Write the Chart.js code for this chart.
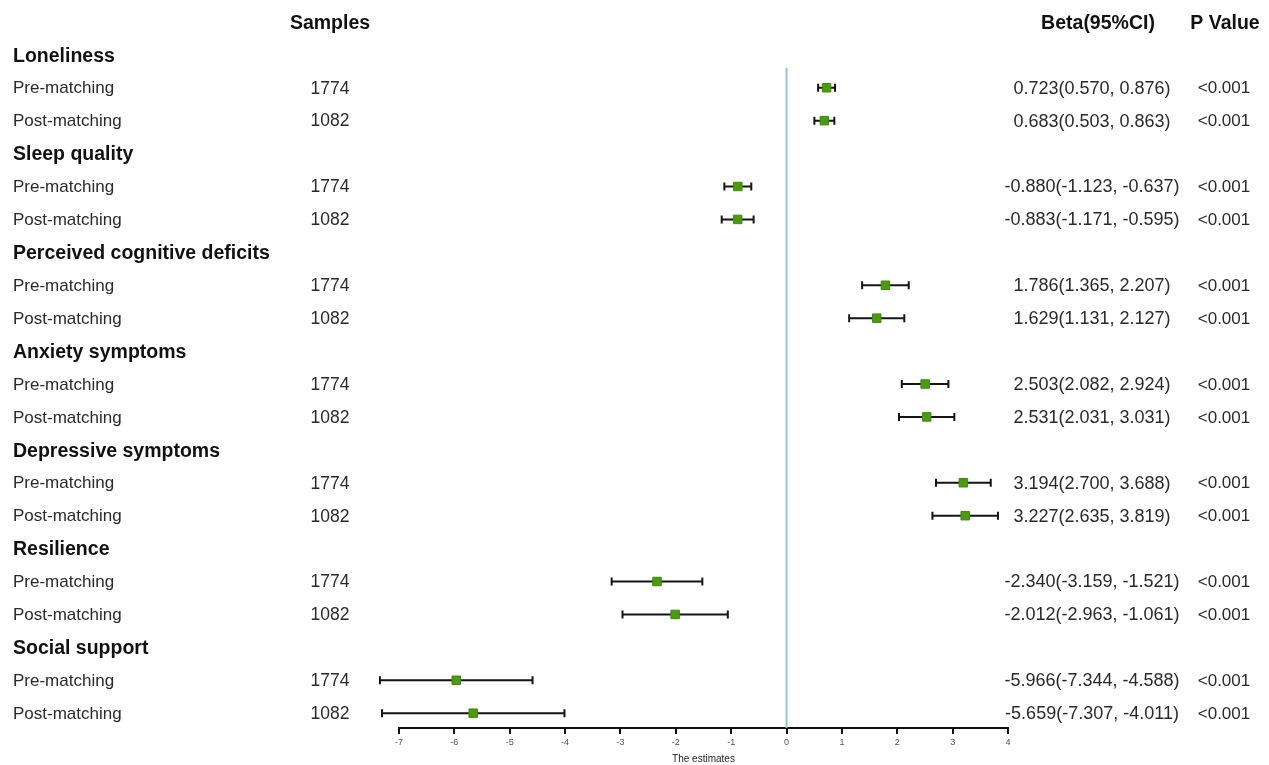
<!DOCTYPE html>
<html>
<head>
<meta charset="utf-8">
<script src="https://cdn.jsdelivr.net/npm/chart.js@4"></script>
<style>
  html, body { margin: 0; padding: 0; background: #ffffff; }
  #wrap { width: 1269px; height: 765px; position: relative; }
</style>
</head>
<body>
<div id="wrap"><canvas id="forest"></canvas></div>
<script>
// forest plot data
const groups = ['Loneliness', 'Sleep quality', 'Perceived cognitive deficits', 'Anxiety symptoms',
                'Depressive symptoms', 'Resilience', 'Social support'];
const subLabels = ['Pre-matching', 'Post-matching'];
const samples = [1774, 1082];
const estimates = [0.723, 0.683, -0.880, -0.883, 1.786, 1.629, 2.503, 2.531, 3.194, 3.227, -2.340, -2.012, -5.966, -5.659];
const lower = [0.570, 0.503, -1.123, -1.171, 1.365, 1.131, 2.082, 2.031, 2.700, 2.635, -3.159, -2.963, -7.344, -7.307];
const upper = [0.876, 0.863, -0.637, -0.595, 2.207, 2.127, 2.924, 3.031, 3.688, 3.819, -1.521, -1.061, -4.588, -4.011];
const pValues = ['<0.001', '<0.001', '<0.001', '<0.001', '<0.001', '<0.001', '<0.001',
                 '<0.001', '<0.001', '<0.001', '<0.001', '<0.001', '<0.001', '<0.001'];
const xTicks = [-7, -6, -5, -4, -3, -2, -1, 0, 1, 2, 3, 4];

const GREEN = '#4d9a10';
const TEXT = '#2a2a2a';
const HEAD = '#111111';

// row index for each estimate: header at 3g, sub rows at 3g+1, 3g+2
const rowOf = i => Math.floor(i / 2) * 3 + (i % 2) + 1;
const points = estimates.map((v, i) => ({ x: v, y: rowOf(i) }));
const fmt = v => v.toFixed(3);

const whiskers = {
    id: 'whiskers',
    beforeDatasetsDraw(chart) {
        const { ctx, scales: { x, y } } = chart;
        ctx.save();
        ctx.strokeStyle = '#151515';
        ctx.lineWidth = 2;
        estimates.forEach((v, i) => {
            const py = y.getPixelForValue(rowOf(i));
            const x1 = x.getPixelForValue(lower[i]);
            const x2 = x.getPixelForValue(upper[i]);
            ctx.beginPath();
            ctx.moveTo(x1, py); ctx.lineTo(x2, py);
            ctx.moveTo(x1, py - 4); ctx.lineTo(x1, py + 4);
            ctx.moveTo(x2, py - 4); ctx.lineTo(x2, py + 4);
            ctx.stroke();
        });
        ctx.restore();
    }
};

const tableText = {
    id: 'tableText',
    afterDraw(chart) {
        const { ctx, scales: { y } } = chart;
        ctx.save();
        ctx.textBaseline = 'middle';

        // column headers
        ctx.fillStyle = HEAD;
        ctx.font = 'bold 19.5px "Liberation Sans", Arial, sans-serif';
        ctx.textAlign = 'center';
        ctx.fillText('Samples', 330, 24);
        ctx.fillText('Beta(95%CI)', 1098, 24);
        ctx.fillText('P Value', 1225, 24);

        groups.forEach((g, gi) => {
            ctx.textAlign = 'left';
            ctx.fillText(g, 13, y.getPixelForValue(gi * 3) + 1.5);
        });

        ctx.fillStyle = TEXT;
        estimates.forEach((v, i) => {
            const py = y.getPixelForValue(rowOf(i)) + 1;
            ctx.font = '17px "Liberation Sans", Arial, sans-serif';
            ctx.textAlign = 'left';
            ctx.fillText(subLabels[i % 2], 13, py);
            ctx.textAlign = 'center';
            ctx.font = '17.5px "Liberation Sans", Arial, sans-serif';
            ctx.fillText(String(samples[i % 2]), 330, py);
            ctx.font = '18px "Liberation Sans", Arial, sans-serif';
            ctx.fillText(fmt(v) + '(' + fmt(lower[i]) + ', ' + fmt(upper[i]) + ')', 1092, py);
            ctx.font = '17px "Liberation Sans", Arial, sans-serif';
            ctx.fillText(pValues[i], 1224, py);
        });
        ctx.restore();
    }
};

const canvas = document.getElementById('forest');
new Chart(canvas.getContext('2d'), {
    type: 'scatter',
    data: {
        datasets: [
            {
                label: 'Beta',
                data: points,
                pointStyle: 'rect',
                pointRadius: 6,
                backgroundColor: GREEN,
                borderColor: '#3f8a08',
                borderWidth: 1,
                clip: false
            },
            {
                label: 'zero',
                data: [{ x: 0, y: 0.4 }, { x: 0, y: 20.45 }],
                showLine: true,
                pointRadius: 0,
                borderColor: '#8ec8d0',
                borderWidth: 2
            }
        ]
    },
    options: {
        responsive: true,
        maintainAspectRatio: false,
        animation: false,
        events: [],
        layout: { padding: { left: 399, right: 261, top: 68, bottom: 0 } },
        plugins: {
            legend: { display: false },
            tooltip: { enabled: false }
        },
        scales: {
            x: {
                type: 'linear',
                min: -7,
                max: 4,
                afterBuildTicks: scale => { scale.ticks = xTicks.map(v => ({ value: v })); },
                afterFit: scale => { scale.height = 37; },
                border: { display: true, color: '#111111', width: 2 },
                grid: { drawOnChartArea: false, drawTicks: true, tickLength: 6, color: '#111111', lineWidth: 2 },
                ticks: { color: '#555555', font: { size: 9, family: 'Liberation Sans' }, padding: 3, maxRotation: 0 },
                title: { display: true, text: 'The estimates', color: '#222222', font: { size: 10, family: 'Liberation Sans' }, padding: { top: 0, bottom: 0 } }
            },
            y: {
                type: 'linear',
                min: 0.4,
                max: 20.45,
                reverse: true,
                display: false
            }
        }
    },
    plugins: [whiskers, tableText]
});
</script>
</body>
</html>
